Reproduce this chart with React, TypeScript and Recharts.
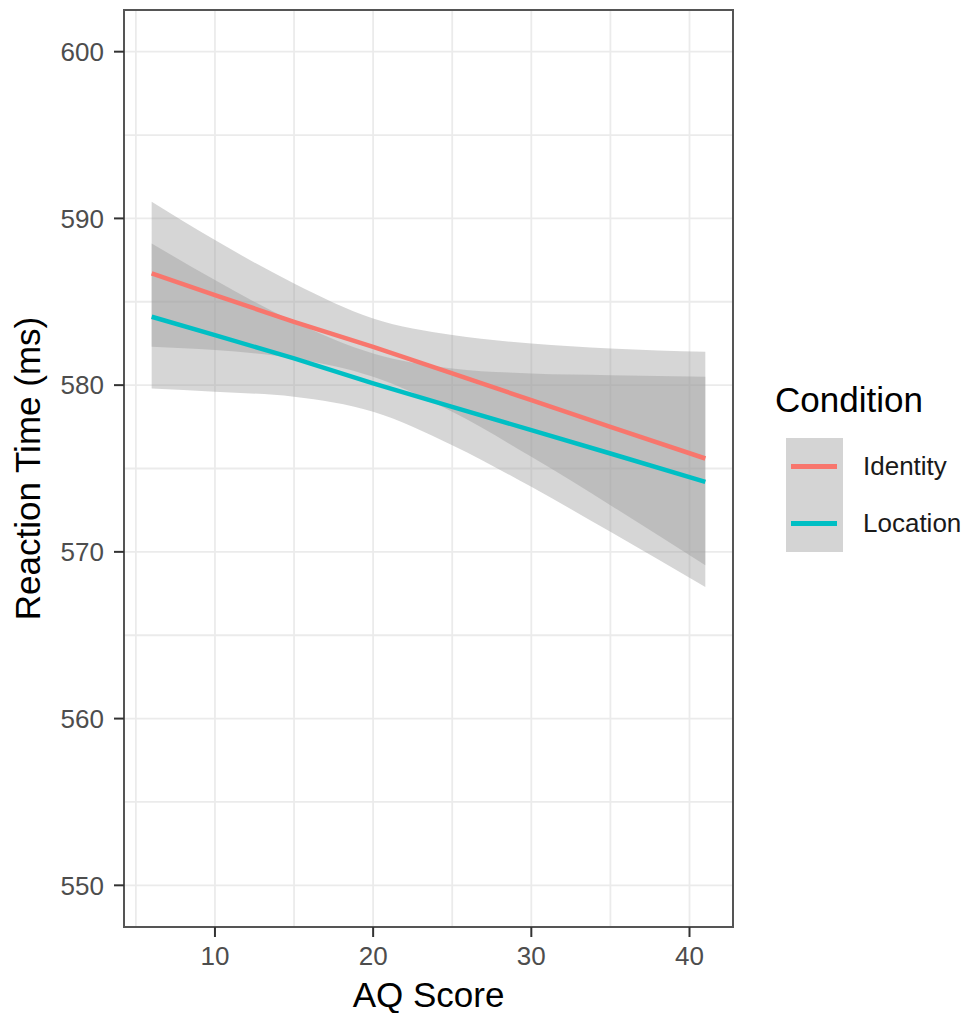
import React from "react";
import {
  ComposedChart,
  Area,
  Line,
  XAxis,
  YAxis,
  CartesianGrid,
  Legend,
  ReferenceArea,
} from "recharts";

// values
const aqScores = [6, 10, 15, 20, 25, 30, 35, 41];
const identityFit = [586.7, 585.4, 583.8, 582.3, 580.7, 579.1, 577.5, 575.6];
const identityUpper = [591.0, 588.7, 586.1, 584.0, 583.0, 582.5, 582.2, 582.0];
const identityLower = [582.3, 582.1, 581.6, 580.5, 578.4, 575.7, 572.8, 569.2];
const locationFit = [584.1, 583.0, 581.6, 580.1, 578.7, 577.3, 575.9, 574.2];
const locationUpper = [588.5, 586.3, 583.8, 581.9, 581.0, 580.7, 580.6, 580.5];
const locationLower = [579.8, 579.6, 579.3, 578.4, 576.4, 573.9, 571.2, 567.9];

const xTicks = [10, 20, 30, 40];
const xMinorTicks = [5, 15, 25, 35];
const yTicks = [550, 560, 570, 580, 590, 600];
const yMinorTicks = [555, 565, 575, 585, 595];

const X_DOMAIN: [number, number] = [4.25, 42.75];
const Y_DOMAIN: [number, number] = [547.5, 602.5];

const FONT = "'Liberation Sans', Arial, Helvetica, sans-serif";
const RED = "#F8766D";
const TEAL = "#00BFC4";
const TICK_SIZE = 10;
const TICK_MARGIN = 10;

const data = aqScores.map((aq, i) => ({
  aq,
  identity: identityFit[i],
  identityBand: [identityLower[i], identityUpper[i]],
  location: locationFit[i],
  locationBand: [locationLower[i], locationUpper[i]],
}));

const allXTicks = [...xTicks, ...xMinorTicks].sort((a, b) => a - b);
const allYTicks = [...yTicks, ...yMinorTicks].sort((a, b) => a - b);

// grid is drawn at every tick, but only the major ones get a mark and a label
function XTick({ x, y, payload }: any) {
  if (!xTicks.includes(payload.value)) return null;
  const top = y - TICK_MARGIN - TICK_SIZE;
  return (
    <g>
      <line x1={x} x2={x} y1={top} y2={top + TICK_SIZE} stroke="#333" strokeWidth={2} />
      <text
        x={x}
        y={y}
        dy="0.71em"
        textAnchor="middle"
        fill="#4d4d4d"
        fontSize={26}
        fontFamily={FONT}
      >
        {payload.value}
      </text>
    </g>
  );
}

function YTick({ x, y, payload }: any) {
  if (!yTicks.includes(payload.value)) return null;
  const right = x + TICK_MARGIN + TICK_SIZE;
  return (
    <g>
      <line x1={right - TICK_SIZE} x2={right} y1={y} y2={y} stroke="#333" strokeWidth={2} />
      <text
        x={x}
        y={y}
        dy="0.355em"
        textAnchor="end"
        fill="#4d4d4d"
        fontSize={26}
        fontFamily={FONT}
      >
        {payload.value}
      </text>
    </g>
  );
}

function ConditionLegend(props: any) {
  const items = (props.payload ?? []).filter((p: any) => p.type !== "none");
  return (
    <div style={{ fontFamily: FONT }}>
      <div style={{ fontSize: 35, lineHeight: "40px", color: "#000", marginBottom: 18 }}>
        Condition
      </div>
      {items.map((item: any) => (
        <div
          key={item.value}
          style={{ display: "flex", alignItems: "center", height: 57, marginLeft: 11 }}
        >
          <div style={{ width: 57, height: 57, background: "#d4d4d4", position: "relative" }}>
            <div
              style={{
                position: "absolute",
                left: 5,
                right: 6,
                top: 26,
                height: 5,
                background: item.color,
              }}
            />
          </div>
          <span style={{ marginLeft: 20, fontSize: 26, color: "#1a1a1a" }}>{item.value}</span>
        </div>
      ))}
    </div>
  );
}

export default function App() {
  return (
    <div style={{ position: "absolute", left: 0, top: 0, background: "#fff" }}>
      <ComposedChart
        width={972}
        height={1013}
        data={data}
        margin={{ top: 10, right: 239, bottom: 0, left: 0 }}
      >
        <CartesianGrid stroke="#ebebeb" strokeWidth={1.8} />
        <XAxis
          dataKey="aq"
          type="number"
          domain={X_DOMAIN}
          ticks={allXTicks}
          interval={0}
          height={86}
          stroke="#555"
          strokeWidth={2}
          tickSize={TICK_SIZE}
          tickMargin={TICK_MARGIN}
          tickLine={false}
          tick={<XTick />}
          label={{
            value: "AQ Score",
            position: "insideBottom",
            offset: 6,
            style: { fill: "#000", fontSize: 35, fontFamily: FONT },
          }}
        />
        <YAxis
          type="number"
          domain={Y_DOMAIN}
          ticks={allYTicks}
          interval={0}
          width={124}
          stroke="#555"
          strokeWidth={2}
          tickSize={TICK_SIZE}
          tickMargin={TICK_MARGIN}
          tickLine={false}
          tick={<YTick />}
          label={{
            value: "Reaction Time (ms)",
            angle: -90,
            position: "insideLeft",
            offset: 28,
            style: { fill: "#000", fontSize: 35, fontFamily: FONT, textAnchor: "middle" },
          }}
        />
        <Area
          dataKey="identityBand"
          type="monotone"
          fill="#999999"
          fillOpacity={0.4}
          stroke="none"
          legendType="none"
          isAnimationActive={false}
        />
        <Line
          dataKey="identity"
          name="Identity"
          type="linear"
          stroke={RED}
          strokeWidth={4.5}
          dot={false}
          activeDot={false}
          isAnimationActive={false}
        />
        <Area
          dataKey="locationBand"
          type="monotone"
          fill="#999999"
          fillOpacity={0.4}
          stroke="none"
          legendType="none"
          isAnimationActive={false}
        />
        <Line
          dataKey="location"
          name="Location"
          type="linear"
          stroke={TEAL}
          strokeWidth={4.5}
          dot={false}
          activeDot={false}
          isAnimationActive={false}
        />
        {/* panel border */}
        <ReferenceArea
          x1={X_DOMAIN[0]}
          x2={X_DOMAIN[1]}
          y1={Y_DOMAIN[0]}
          y2={Y_DOMAIN[1]}
          fill="none"
          fillOpacity={0}
          stroke="#555"
          strokeWidth={2}
        />
        <Legend
          layout="horizontal"
          verticalAlign="middle"
          content={ConditionLegend}
          wrapperStyle={{ left: 775, top: 380, width: 197 }}
        />
      </ComposedChart>
    </div>
  );
}
